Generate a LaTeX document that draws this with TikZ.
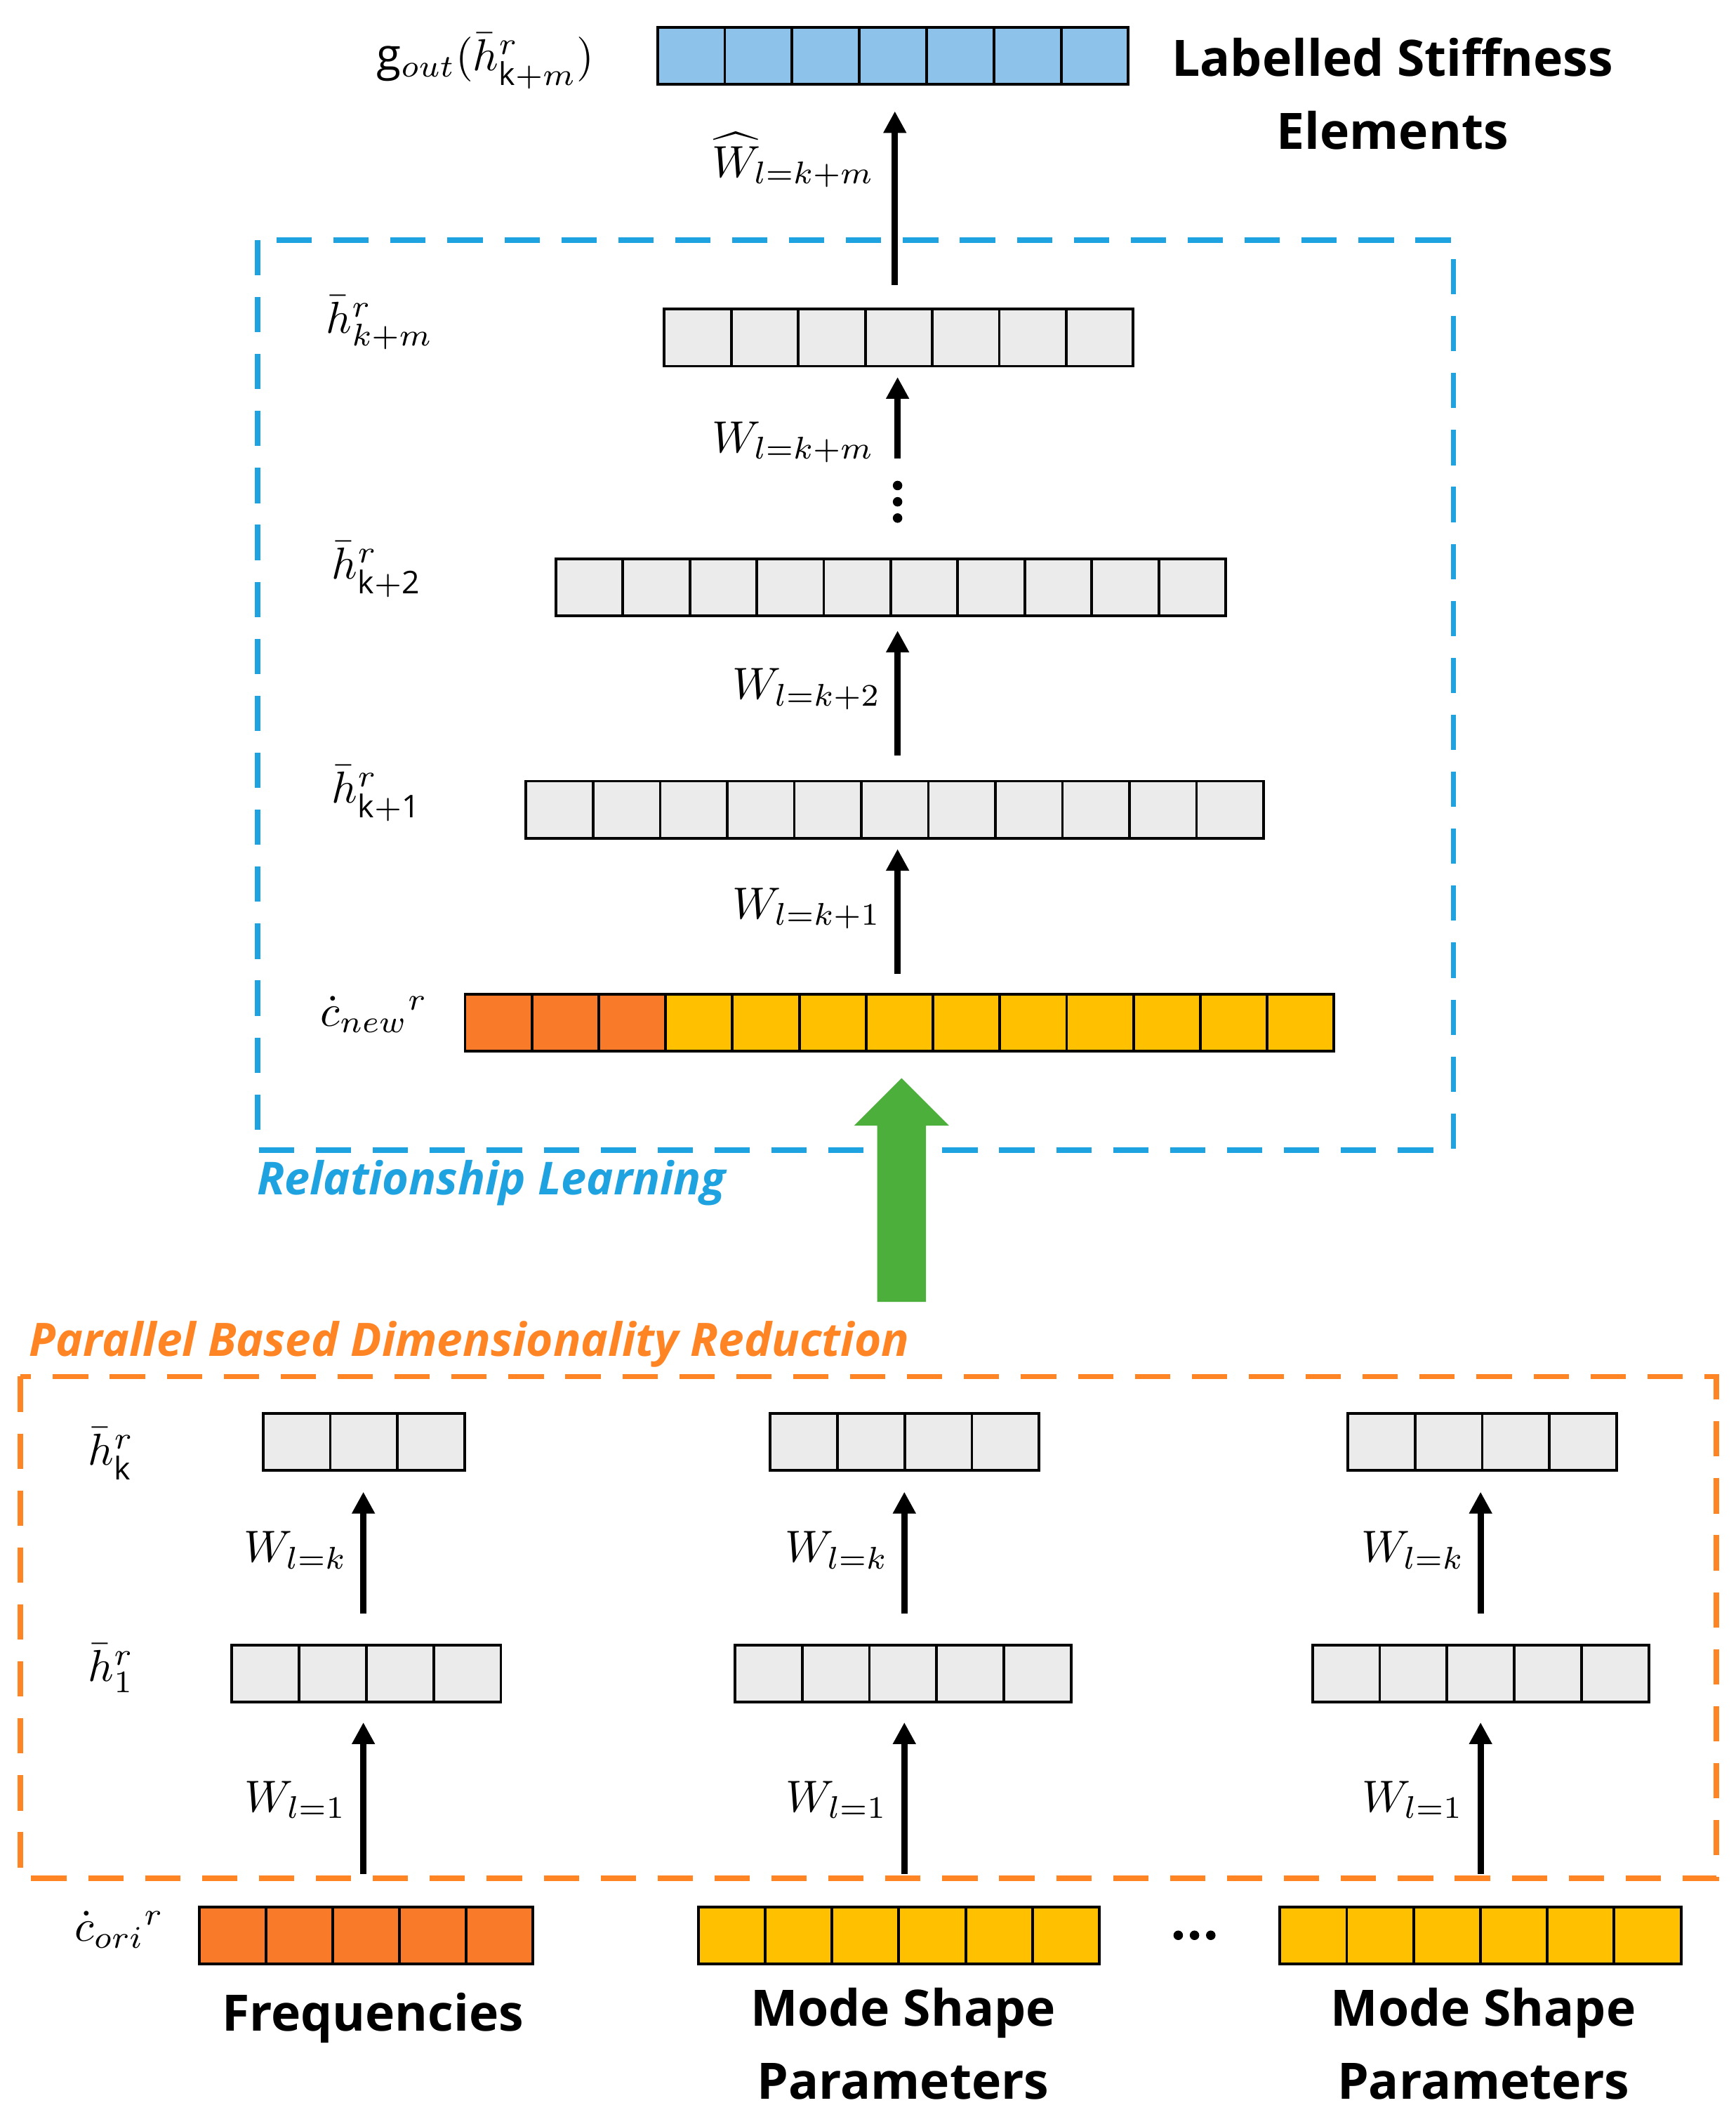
\documentclass[tikz,border=0pt]{standalone}
\usepackage{fontspec}
\setmainfont{Open Sans}
\usepackage{amsmath}
\usepackage{graphicx}
\usetikzlibrary{arrows.meta}
\definecolor{cblue}{HTML}{8DC3EA}
\definecolor{cgray}{HTML}{EBEBEB}
\definecolor{corange}{HTML}{F97B2A}
\definecolor{cyellow}{HTML}{FFC000}
\definecolor{cgreen}{HTML}{4DAF3B}
\definecolor{dblue}{HTML}{1FA3E0}
\definecolor{dorange}{HTML}{FF8424}
\newcommand\cellbar[5]{%
 \foreach \i in {1,...,#3}{\fill[#5] ({#1+(\i-1)*#4},#2) rectangle ++(#4,42);
 \draw[line width=2pt] ({#1+(\i-1)*#4},#2) rectangle ++(#4,42);}}
\newcommand\mm[1]{\scalebox{3.3}{$#1$}}
\tikzset{arr/.style={line width=4.5pt,-{Triangle[length=16pt,width=16pt]}},
 ml/.style={font=\normalsize,inner sep=0pt},
 bl/.style={font=\fontsize{37}{54}\bfseries\selectfont,align=center}}
\begin{document}
\begin{tikzpicture}[x=1pt,y=-1pt]
\useasboundingbox (0,0) rectangle (1280,1561);
\fill[white] (0,0) rectangle (1280,1561);
% top
\cellbar{485}{20}{7}{49.6}{cblue}
\node[ml] (gout) at (358,45) {\mm{\mathrm{g}_{out}(\bar h^{r}_{\mathrm{k}+m})}};
\node[bl] (lab) at (1027,69) {Labelled Stiffness\\Elements};
\coordinate (a0s) at (660,210); \coordinate (a0e) at (660,82);
\draw[arr] (a0s) -- (a0e);
\node[ml] (w0) at (585,118) {\mm{\widehat W_{l=k+m}}};
% blue box
\draw[dblue,line width=4pt,dash pattern=on 26pt off 16pt] (190,177) rectangle (1072,848);
\cellbar{490}{228}{7}{49.4}{cgray}
\node[ml] (h1) at (280,238) {\mm{\bar h^{r}_{k+m}}};
\coordinate (a1s) at (662,338); \coordinate (a1e) at (662,278);
\draw[arr] (a1s) -- (a1e);
\node[ml] (w1) at (585,326) {\mm{W_{l=k+m}}};
\foreach \y in {358,370,382} \fill (662,\y) circle (3.5);
\cellbar{410}{412}{10}{49.4}{cgray}
\node[ml] (h2) at (278,420) {\mm{\bar h^{r}_{\mathrm{k+2}}}};
\coordinate (a2s) at (662,557); \coordinate (a2e) at (662,465);
\draw[arr] (a2s) -- (a2e);
\node[ml] (w2) at (595,508) {\mm{W_{l=k+2}}};
\cellbar{388}{576}{11}{49.45}{cgray}
\node[ml] (h3) at (278,585) {\mm{\bar h^{r}_{\mathrm{k+1}}}};
\coordinate (a3s) at (662,718); \coordinate (a3e) at (662,626);
\draw[arr] (a3s) -- (a3e);
\node[ml] (w3) at (595,670) {\mm{W_{l=k+1}}};
\cellbar{343}{733}{13}{49.3}{cyellow}
\cellbar{343}{733}{3}{49.3}{corange}
\node[ml] (cn) at (276,748) {\mm{\dot c_{new}{}^{r}}};
% green arrow
\fill[cgreen] (647,960) -- (683,960) -- (683,830) -- (700,830) -- (665,795) -- (630,830) -- (647,830) -- cycle;
\node[anchor=west,text=dblue,font=\fontsize{33.5}{36}\bfseries\itshape\selectfont] (rl) at (186,872) {Relationship Learning};
\node[anchor=west,text=dorange,font=\fontsize{34}{36}\bfseries\itshape\selectfont] (pb) at (18,991) {Parallel Based Dimensionality Reduction};
% orange box
\draw[dorange,line width=4pt,dash pattern=on 26pt off 16pt] (15,1015) rectangle (1266,1385);
\node[ml] (hk) at (82,1072) {\mm{\bar h^{r}_{\mathrm{k}}}};
\node[ml] (h1b) at (82,1230) {\mm{\bar h^{r}_{1}}};
\foreach \xk/\nk/\xo/\no/\xa/\xl/\nm in {194/3/171/4/268/218/L,568/4/542/5/667/617/M,994/4/968/5/1092/1042/R}{
 \cellbar{\xk}{1042}{\nk}{49.6}{cgray}
 \cellbar{\xo}{1213}{\no}{49.6}{cgray}
 \coordinate (k\nm s) at (\xa,1190); \coordinate (k\nm e) at (\xa,1100);
 \coordinate (o\nm s) at (\xa,1382); \coordinate (o\nm e) at (\xa,1270);
 \draw[arr] (k\nm s) -- (k\nm e);
 \draw[arr] (o\nm s) -- (o\nm e);
 \node[ml] at (\xl,1143) {\mm{W_{l=k}}};
 \node[ml] at (\xl,1327) {\mm{W_{l=1}}};
}
\cellbar{147}{1406}{5}{49.2}{corange}
\cellbar{515}{1406}{6}{49.3}{cyellow}
\cellbar{944}{1406}{6}{49.3}{cyellow}
\node[ml] (co) at (88,1423) {\mm{\dot c_{ori}{}^{r}}};
\foreach \x in {869,881,893} \fill (\x,1427) circle (3.5);
\node[bl] (fr) at (275,1488) {Frequencies};
\node[bl] (ms1) at (666,1507) {Mode Shape\\Parameters};
\node[bl] (ms2) at (1094,1507) {Mode Shape\\Parameters};
\end{tikzpicture}
\end{document}
